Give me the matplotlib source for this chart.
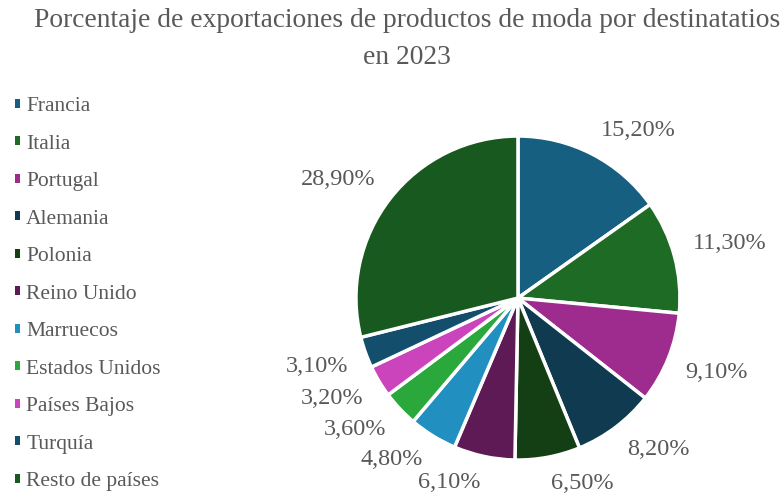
import numpy as np
import matplotlib.pyplot as plt

plt.rcParams['font.family'] = ['Liberation Serif', 'DejaVu Serif']

# datos
paises = ['Francia', 'Italia', 'Portugal', 'Alemania', 'Polonia', 'Reino Unido',
          'Marruecos', 'Estados Unidos', 'Países Bajos', 'Turquía', 'Resto de países']
porcentajes = [15.2, 11.3, 9.1, 8.2, 6.5, 6.1, 4.8, 3.6, 3.2, 3.1, 28.9]
colores = ['#175f80', '#1d6b24', '#9e2b8e', '#0f3a50', '#143f15', '#5d1a55',
           '#2190c1', '#2aa83b', '#cc44bb', '#134f6c', '#17591e']

gris = '#595959'

fig = plt.figure(figsize=(7.82, 4.97), dpi=100)
ax = fig.add_axes([0.4552, 0.0744, 0.4143, 0.6519])

wedges, texts, autotexts = ax.pie(
    porcentajes, colors=colores, startangle=90, counterclock=False,
    autopct=lambda p: ('%.2f%%' % p).replace('.', ','), pctdistance=1.3,
    wedgeprops=dict(edgecolor='white', linewidth=2.5),
    textprops=dict(color=gris, fontsize=17.5))
ax.set_xlim(-1, 1)
ax.set_ylim(-1, 1)
ax.set_aspect('equal')

# etiquetas fuera del sector: la esquina más cercana de la caja queda sobre
# el radio medio del sector, un poco fuera del borde (como "extremo externo")
renderer = fig.canvas.get_renderer()
px = ax.transData.transform((1, 0))[0] - ax.transData.transform((0, 0))[0]
radio_esquina = 1.115
for w, t in zip(wedges, autotexts):
    ang = np.deg2rad((w.theta1 + w.theta2) / 2)
    bb = t.get_window_extent(renderer)
    c, s = np.cos(ang), np.sin(ang)
    x = radio_esquina * c + np.sign(c) * bb.width / 2 / px
    y = radio_esquina * s + np.sign(s) * bb.height * 0.36 / px
    t.set_position((x, y))
    t.set_ha('center')
    t.set_va('center')

fig.text(0.521, 0.984, 'Porcentaje de exportaciones de productos de moda por destinatatios\nen 2023',
         ha='center', va='top', fontsize=19.8, color=gris, linespacing=1.65)

leg = fig.legend(wedges, paises, loc='upper left', bbox_to_anchor=(0.008, 0.822),
                 frameon=False, fontsize=15.5, labelcolor=gris,
                 handlelength=0.26, handleheight=0.26, handletextpad=0.27,
                 labelspacing=0.86, borderaxespad=0)
for h in leg.legend_handles:
    h.set_edgecolor('none')

fig.savefig('out.png', dpi=100)
